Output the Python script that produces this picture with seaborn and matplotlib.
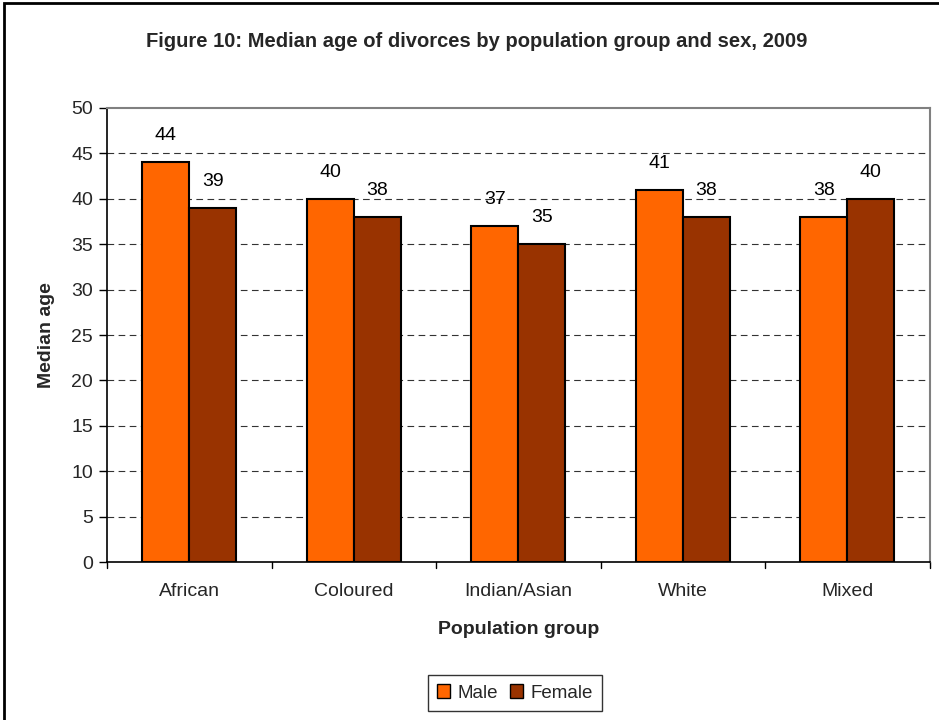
import matplotlib
matplotlib.use("Agg")
import matplotlib.pyplot as plt
import seaborn as sns
import pandas as pd
from matplotlib.patches import Rectangle, Patch

groups = ["African", "Coloured", "Indian/Asian", "White", "Mixed"]
male = [44, 40, 37, 41, 38]
female = [39, 38, 35, 38, 40]
yticks = [0, 5, 10, 15, 20, 25, 30, 35, 40, 45, 50]

df = pd.DataFrame({
    "group": groups * 2,
    "sex": ["Male"] * len(groups) + ["Female"] * len(groups),
    "age": male + female,
})

sns.set_theme(style="white")
plt.rcParams["font.family"] = ["Liberation Sans", "DejaVu Sans"]

fig = plt.figure(figsize=(9.39, 7.2), dpi=100)
ax = fig.add_axes([0.114, 0.2194, 0.876, 0.6306])

palette = {"Male": "#FF6600", "Female": "#993300"}
sns.barplot(data=df, x="group", y="age", hue="sex", palette=palette,
            width=0.57, edgecolor="black", linewidth=1.5, saturation=1,
            ax=ax, legend=False, gap=0)

for cont in ax.containers:
    ax.bar_label(cont, padding=13, fontsize=14, color="black")

ax.set_ylim(0, 50)
ax.set_yticks(yticks)
ax.set_yticklabels([str(t) for t in yticks], fontsize=14)
ax.set_xlim(-0.5, len(groups) - 0.5)
ax.tick_params(axis="x", labelsize=14, length=0, pad=15)
ax.tick_params(axis="y", length=6, width=1, color="black", direction="out", left=True, pad=4)
for t in yticks[1:-1]:
    ax.axhline(t, color="#333333", linestyle=(0, (6, 4)), linewidth=0.8, zorder=0)
ax.set_axisbelow(True)

for i in range(len(groups) + 1):
    ax.plot([i - 0.5, i - 0.5], [0, -0.013], transform=ax.get_xaxis_transform(),
            color="black", linewidth=1, clip_on=False)

ax.spines["left"].set_color("black")
ax.spines["bottom"].set_color("black")
ax.spines["left"].set_linewidth(1.2)
ax.spines["bottom"].set_linewidth(1.2)
ax.spines["top"].set_color("#808080")
ax.spines["right"].set_color("#808080")
ax.spines["top"].set_linewidth(1.5)
ax.spines["right"].set_linewidth(1.5)

ax.set_xlabel("Population group", fontsize=14, fontweight="bold", labelpad=15)
ax.set_ylabel("Median age", fontsize=14, fontweight="bold", labelpad=12)

fig.text(0.508, 0.943, "Figure 10: Median age of divorces by population group and sex, 2009",
         ha="center", va="center", fontsize=14.5, fontweight="bold")

handles = [Patch(facecolor=palette["Male"], edgecolor="black", label="Male"),
           Patch(facecolor=palette["Female"], edgecolor="black", label="Female")]
leg = fig.legend(handles=handles, loc="center", bbox_to_anchor=(0.5485, 0.0375), ncol=2,
                 frameon=True, fontsize=13.5, handlelength=0.7, handleheight=0.7,
                 handletextpad=0.4, columnspacing=0.6, borderpad=0.5, fancybox=False)
leg.get_frame().set_edgecolor("black")
leg.get_frame().set_linewidth(1)

fig.patches.append(Rectangle((0.004, -0.1), 1.2, 1.096, transform=fig.transFigure,
                             fill=False, edgecolor="black", linewidth=2))

fig.savefig("out.png", dpi=100)
